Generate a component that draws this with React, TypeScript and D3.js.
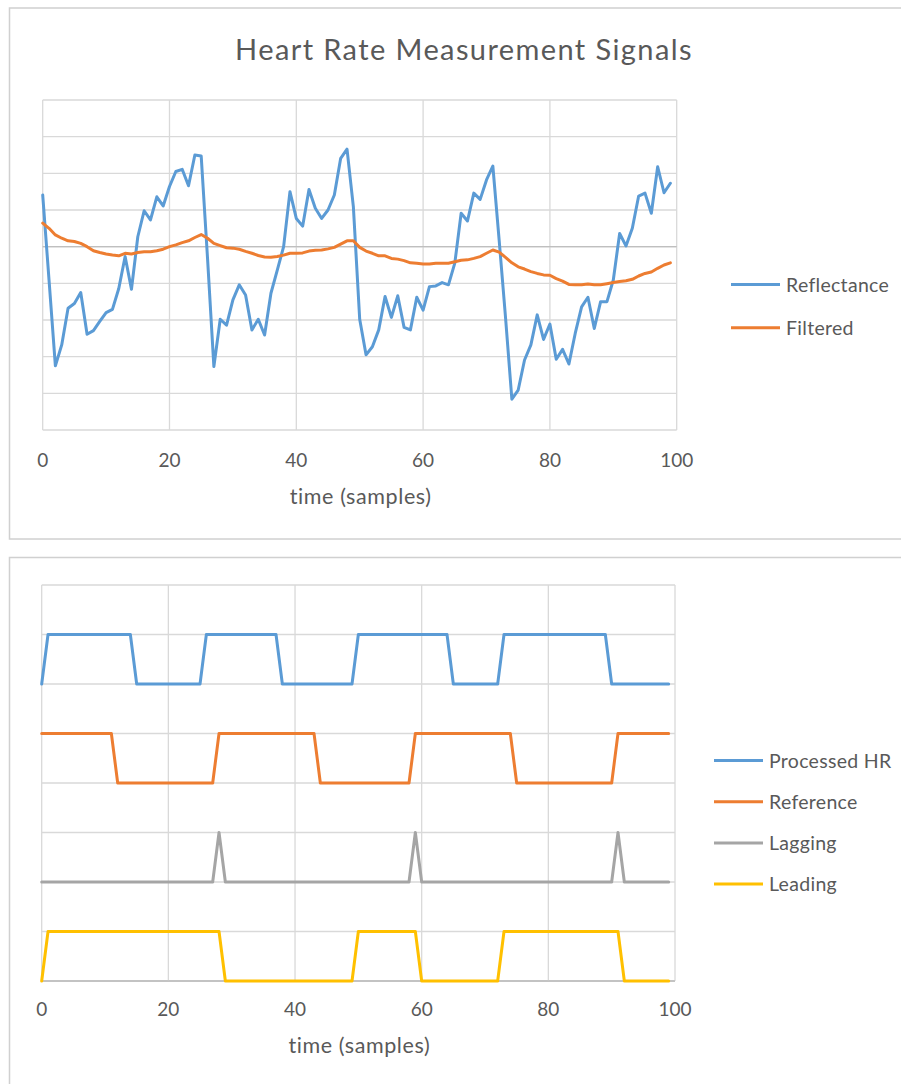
import React, { useEffect, useRef } from 'react';
import * as d3 from 'd3';

// time axis ticks
const xTicks = [0, 20, 40, 60, 80, 100];

// top chart: raw reflectance vs filtered signal
const reflectance = [
  1.41, -0.91, -3.25, -2.68, -1.68, -1.55, -1.25, -2.39, -2.29, -2.04,
  -1.80, -1.71, -1.14, -0.27, -1.16, 0.27, 0.98, 0.73, 1.36, 1.11,
  1.64, 2.05, 2.11, 1.66, 2.50, 2.47, -0.32, -3.27, -1.98, -2.14,
  -1.45, -1.04, -1.32, -2.27, -1.98, -2.41, -1.27, -0.64, 0.00, 1.50,
  0.77, 0.56, 1.56, 1.05, 0.77, 1.00, 1.41, 2.41, 2.66, 1.09,
  -1.98, -2.95, -2.73, -2.27, -1.36, -1.93, -1.34, -2.20, -2.27, -1.38,
  -1.73, -1.09, -1.07, -0.98, -1.04, -0.45, 0.91, 0.70, 1.46, 1.29,
  1.82, 2.20, 0.17, -1.93, -4.16, -3.91, -3.09, -2.68, -1.86, -2.53,
  -2.11, -3.07, -2.80, -3.20, -2.36, -1.64, -1.38, -2.23, -1.50, -1.50,
  -0.91, 0.36, 0.02, 0.50, 1.38, 1.46, 0.91, 2.18, 1.47, 1.73,
];
const filtered = [
  0.64, 0.50, 0.32, 0.23, 0.16, 0.14, 0.09, 0.00, -0.11, -0.16,
  -0.20, -0.23, -0.25, -0.18, -0.20, -0.16, -0.14, -0.14, -0.11, -0.07,
  0.00, 0.05, 0.11, 0.16, 0.25, 0.33, 0.23, 0.09, 0.03, -0.03,
  -0.04, -0.07, -0.13, -0.18, -0.24, -0.28, -0.29, -0.27, -0.23, -0.18,
  -0.18, -0.17, -0.12, -0.10, -0.09, -0.06, -0.02, 0.07, 0.16, 0.16,
  -0.02, -0.12, -0.18, -0.25, -0.25, -0.32, -0.34, -0.38, -0.44, -0.45,
  -0.47, -0.47, -0.45, -0.45, -0.45, -0.41, -0.37, -0.36, -0.32, -0.27,
  -0.18, -0.09, -0.15, -0.29, -0.44, -0.55, -0.61, -0.68, -0.73, -0.77,
  -0.78, -0.87, -0.94, -1.03, -1.04, -1.04, -1.02, -1.04, -1.04, -1.01,
  -0.98, -0.95, -0.93, -0.89, -0.80, -0.73, -0.69, -0.59, -0.50, -0.44,
];

// bottom chart: stacked pulse trains (levels as drawn)
const processedHR = [
  6, 7, 7, 7, 7, 7, 7, 7, 7, 7,
  7, 7, 7, 7, 7, 6, 6, 6, 6, 6,
  6, 6, 6, 6, 6, 6, 7, 7, 7, 7,
  7, 7, 7, 7, 7, 7, 7, 7, 6, 6,
  6, 6, 6, 6, 6, 6, 6, 6, 6, 6,
  7, 7, 7, 7, 7, 7, 7, 7, 7, 7,
  7, 7, 7, 7, 7, 6, 6, 6, 6, 6,
  6, 6, 6, 7, 7, 7, 7, 7, 7, 7,
  7, 7, 7, 7, 7, 7, 7, 7, 7, 7,
  6, 6, 6, 6, 6, 6, 6, 6, 6, 6,
];
const reference = [
  5, 5, 5, 5, 5, 5, 5, 5, 5, 5,
  5, 5, 4, 4, 4, 4, 4, 4, 4, 4,
  4, 4, 4, 4, 4, 4, 4, 4, 5, 5,
  5, 5, 5, 5, 5, 5, 5, 5, 5, 5,
  5, 5, 5, 5, 4, 4, 4, 4, 4, 4,
  4, 4, 4, 4, 4, 4, 4, 4, 4, 5,
  5, 5, 5, 5, 5, 5, 5, 5, 5, 5,
  5, 5, 5, 5, 5, 4, 4, 4, 4, 4,
  4, 4, 4, 4, 4, 4, 4, 4, 4, 4,
  4, 5, 5, 5, 5, 5, 5, 5, 5, 5,
];
const lagging = [
  2, 2, 2, 2, 2, 2, 2, 2, 2, 2,
  2, 2, 2, 2, 2, 2, 2, 2, 2, 2,
  2, 2, 2, 2, 2, 2, 2, 2, 3, 2,
  2, 2, 2, 2, 2, 2, 2, 2, 2, 2,
  2, 2, 2, 2, 2, 2, 2, 2, 2, 2,
  2, 2, 2, 2, 2, 2, 2, 2, 2, 3,
  2, 2, 2, 2, 2, 2, 2, 2, 2, 2,
  2, 2, 2, 2, 2, 2, 2, 2, 2, 2,
  2, 2, 2, 2, 2, 2, 2, 2, 2, 2,
  2, 3, 2, 2, 2, 2, 2, 2, 2, 2,
];
const leading = [
  0, 1, 1, 1, 1, 1, 1, 1, 1, 1,
  1, 1, 1, 1, 1, 1, 1, 1, 1, 1,
  1, 1, 1, 1, 1, 1, 1, 1, 1, 0,
  0, 0, 0, 0, 0, 0, 0, 0, 0, 0,
  0, 0, 0, 0, 0, 0, 0, 0, 0, 0,
  1, 1, 1, 1, 1, 1, 1, 1, 1, 1,
  0, 0, 0, 0, 0, 0, 0, 0, 0, 0,
  0, 0, 0, 1, 1, 1, 1, 1, 1, 1,
  1, 1, 1, 1, 1, 1, 1, 1, 1, 1,
  1, 1, 0, 0, 0, 0, 0, 0, 0, 0,
];

const FONT = 'Lato, "Open Sans", sans-serif';
const TEXT = '#595959';
const GRID = '#d9d9d9';

function drawChart(svg, cfg) {
  const g = svg.append('g');
  // outer chart frame
  g.append('rect')
    .attr('x', cfg.box[0]).attr('y', cfg.box[1])
    .attr('width', cfg.box[2]).attr('height', cfg.box[3])
    .attr('fill', 'white').attr('stroke', '#d0d0d0').attr('stroke-width', 1.5);

  const x = d3.scaleLinear().domain([0, 100]).range([cfg.left, cfg.right]);
  const y = d3.scaleLinear().domain(cfg.yDomain).range([cfg.bottom, cfg.top]);

  // gridlines
  g.selectAll('.hg').data(d3.range(cfg.yDomain[0], cfg.yDomain[1] + 1))
    .enter().append('line')
    .attr('x1', cfg.left).attr('x2', cfg.right)
    .attr('y1', d => y(d)).attr('y2', d => y(d))
    .attr('stroke', d => d === 0 ? '#bfbfbf' : GRID).attr('stroke-width', 1.3);
  g.selectAll('.vg').data(xTicks)
    .enter().append('line')
    .attr('x1', d => x(d)).attr('x2', d => x(d))
    .attr('y1', cfg.top).attr('y2', cfg.bottom)
    .attr('stroke', GRID).attr('stroke-width', 1.3);
  // redraw zero axis over vertical grid
  g.append('line')
    .attr('x1', cfg.left).attr('x2', cfg.right)
    .attr('y1', y(0)).attr('y2', y(0))
    .attr('stroke', '#bfbfbf').attr('stroke-width', 1.3);

  // tick labels
  g.selectAll('.tl').data(xTicks)
    .enter().append('text')
    .attr('x', d => x(d)).attr('y', cfg.tickY)
    .attr('text-anchor', 'middle')
    .attr('font-family', FONT).attr('font-size', 19).attr('fill', TEXT)
    .text(d => d);
  g.append('text')
    .attr('x', (cfg.left + cfg.right) / 2 + 1).attr('y', cfg.labelY)
    .attr('text-anchor', 'middle')
    .attr('font-family', FONT).attr('font-size', 21.5)
    .attr('letter-spacing', 0.6).attr('fill', TEXT)
    .text('time (samples)');

  if (cfg.title) {
    g.append('text')
      .attr('x', cfg.titleX).attr('y', cfg.titleY)
      .attr('text-anchor', 'middle')
      .attr('font-family', FONT).attr('font-size', 29)
      .attr('letter-spacing', 1.4).attr('fill', TEXT)
      .text(cfg.title);
  }

  const line = d3.line()
    .x((d, i) => x(i))
    .y(d => y(d));

  cfg.series.forEach((s, k) => {
    g.append('path')
      .datum(s.values)
      .attr('d', line)
      .attr('fill', 'none')
      .attr('stroke', s.color)
      .attr('stroke-width', 3)
      .attr('stroke-linejoin', 'round')
      .attr('stroke-linecap', 'round');

    // legend entry
    const ly = cfg.legendY + k * cfg.legendGap;
    g.append('line')
      .attr('x1', cfg.legendX).attr('x2', cfg.legendX + 49)
      .attr('y1', ly).attr('y2', ly)
      .attr('stroke', s.color).attr('stroke-width', 3);
    g.append('text')
      .attr('x', cfg.legendX + 55).attr('y', ly + 7)
      .attr('font-family', FONT).attr('font-size', 19.5)
      .attr('letter-spacing', 0.3).attr('fill', TEXT)
      .text(s.name);
  });
}

export default function App() {
  const ref = useRef(null);

  useEffect(() => {
    const svg = d3.select(ref.current);
    svg.selectAll('*').remove();

    drawChart(svg, {
      box: [9.5, 8, 920, 531],
      left: 42.7, right: 676.7, top: 100, bottom: 430,
      yDomain: [-5, 4],
      tickY: 466.5, labelY: 504,
      title: 'Heart Rate Measurement Signals', titleX: 464, titleY: 60,
      legendX: 731, legendY: 284.5, legendGap: 43.3,
      series: [
        { name: 'Reflectance', values: reflectance, color: '#5B9BD5' },
        { name: 'Filtered', values: filtered, color: '#ED7D31' },
      ],
    });

    drawChart(svg, {
      box: [9.5, 557.5, 920, 540],
      left: 41.7, right: 675, top: 585, bottom: 981,
      yDomain: [0, 8],
      tickY: 1015.5, labelY: 1053,
      legendX: 714, legendY: 760.5, legendGap: 41.2,
      series: [
        { name: 'Processed HR', values: processedHR, color: '#5B9BD5' },
        { name: 'Reference', values: reference, color: '#ED7D31' },
        { name: 'Lagging', values: lagging, color: '#A5A5A5' },
        { name: 'Leading', values: leading, color: '#FFC000' },
      ],
    });
  }, []);

  return (
    <svg
      ref={ref}
      width={901}
      height={1084}
      style={{ position: 'absolute', left: 0, top: 0, background: 'white' }}
    />
  );
}
